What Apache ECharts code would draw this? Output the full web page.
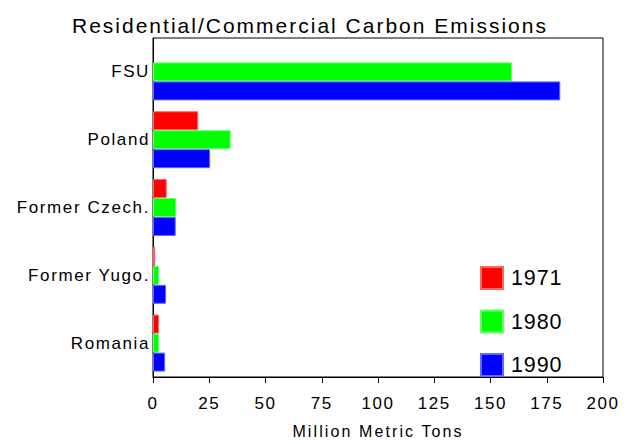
<!DOCTYPE html>
<html><head><meta charset="utf-8">
<script src="https://cdn.jsdelivr.net/npm/echarts@6/dist/echarts.min.js"></script>
<style>
html,body{margin:0;padding:0;background:#fff}
#c{width:630px;height:444px}
#c text[style*="21px"]{letter-spacing:2px}
#c text[style*="17px"]{letter-spacing:1.6px}
#c text[style*="16px"]{letter-spacing:2.1px}
#c text[style*="21.5px"]{letter-spacing:0.9px}
</style>
</head><body><div id="c"></div>
<script>
const categories = ['FSU', 'Poland', 'Former Czech.', 'Former Yugo.', 'Romania'];
const years = ['1971', '1980', '1990'];
const v1971 = ['-', 20.1, 6.1, 1.0, 2.7];
const v1980 = [159.5, 34.5, 10.3, 2.7, 2.7];
const v1990 = [181.0, 25.4, 10.1, 5.8, 5.4];
const colors = ['#ff0000', '#00ff00', '#0000ff'];
const borders = ['#ff6666', '#66ff66', '#6666ff'];
const xTicks = {min: 0, max: 200, interval: 25};

const font = 'Liberation Sans';
const chart = echarts.init(document.getElementById('c'), null, {renderer: 'svg'});
const vals = [v1971, v1980, v1990];
chart.setOption({
  animation: false,
  backgroundColor: '#fff',
  title: {text: 'Residential/Commercial Carbon Emissions', left: 67, top: 9.5,
    textStyle: {fontFamily: font, fontSize: 21, fontWeight: 'normal', color: '#000'}},
  legend: {orient: 'vertical', left: 475, top: 261, itemWidth: 22, itemHeight: 22, itemGap: 19.5,
    icon: 'rect', data: years,
    textStyle: {fontFamily: font, fontSize: 21.5, lineHeight: 16, color: '#000', padding: [6,0,0,3]}},
  grid: {left: 153, right: 27, top: 38, bottom: 64, show: true, borderColor: '#000', borderWidth: 1},
  xAxis: {type: 'value', min: xTicks.min, max: xTicks.max, interval: xTicks.interval,
    name: 'Million Metric Tons', nameLocation: 'middle', nameGap: 46,
    nameTextStyle: {fontFamily: font, fontSize: 16, color: '#000'},
    axisLine: {show: true, lineStyle: {color: '#000'}},
    axisTick: {show: true, length: 6, lineStyle: {color: '#000'}},
    axisLabel: {fontFamily: font, fontSize: 17, color: '#000', margin: 18},
    splitLine: {show: false}},
  yAxis: {type: 'category', data: categories, inverse: true,
    axisLine: {show: true, lineStyle: {color: '#000'}},
    axisTick: {show: false},
    axisLabel: {fontFamily: font, fontSize: 17, color: '#000', margin: 3}},
  series: years.map((y, i) => ({
    name: y, type: 'bar', data: vals[i], barGap: '0%', barCategoryGap: '16%',
    itemStyle: {color: colors[i], borderColor: borders[i], borderWidth: 1}
  }))
});
</script></body></html>
